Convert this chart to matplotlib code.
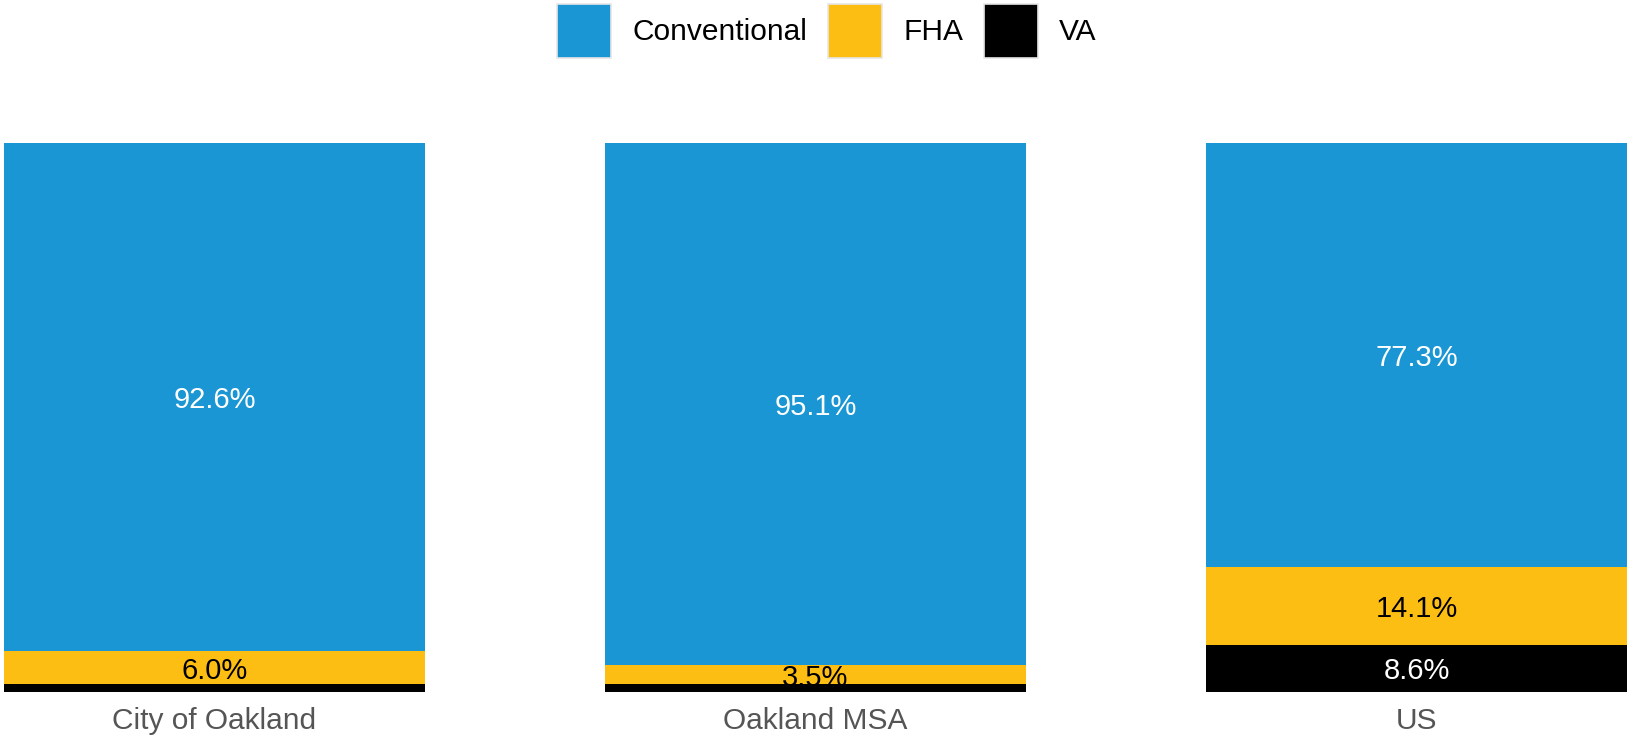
import matplotlib
matplotlib.use("Agg")
import matplotlib.pyplot as plt
from matplotlib.patches import Patch

plt.rcParams['font.family'] = ['Liberation Sans', 'DejaVu Sans']

categories = ["City of Oakland", "Oakland MSA", "US"]
va = [1.4, 1.4, 8.6]
fha = [6.0, 3.5, 14.1]
conventional = [92.6, 95.1, 77.3]

series_names = ["Conventional", "FHA", "VA"]
colors = {"Conventional": "#1996D3", "FHA": "#FDBE14", "VA": "#000000"}
text_colors = {"Conventional": "white", "FHA": "black", "VA": "white"}

fig = plt.figure(figsize=(16.31, 7.38), dpi=100)
ax = fig.add_axes([0.0, 0.0623, 1.0, 0.7446])

x = list(range(len(categories)))
width = 0.7

# stack from the bottom: VA, FHA, then Conventional
stack = [("VA", va), ("FHA", fha), ("Conventional", conventional)]
bottom = [0.0] * len(categories)
for name, vals in stack:
    ax.bar(x, vals, width=width, bottom=bottom, color=colors[name], linewidth=0)
    for i, v in enumerate(vals):
        if v >= 2.0:
            ax.text(x[i], bottom[i] + v / 2, f"{v:.1f}%", ha="center",
                    va="center_baseline", fontsize=21, color=text_colors[name])
    bottom = [b + v for b, v in zip(bottom, vals)]

ax.set_xlim(-0.357, 2.357)
ax.set_ylim(0, 100)
ax.set_xticks(x)
ax.set_xticklabels(categories, fontsize=21.5, color="#555555")
ax.tick_params(axis="x", length=0, pad=11)
ax.set_yticks([])
for s in ax.spines.values():
    s.set_visible(False)

handles = [Patch(facecolor=colors[n], edgecolor="#e6e6e6", linewidth=1.2, label=n)
           for n in series_names]
fig.legend(handles=handles, loc="center", bbox_to_anchor=(0.507, 0.958), ncol=3,
           frameon=False, fontsize=21.5, handlelength=1.82, handleheight=2.45,
           handletextpad=0.7, columnspacing=0.7, borderaxespad=0)

fig.savefig("out.png", dpi=100)
